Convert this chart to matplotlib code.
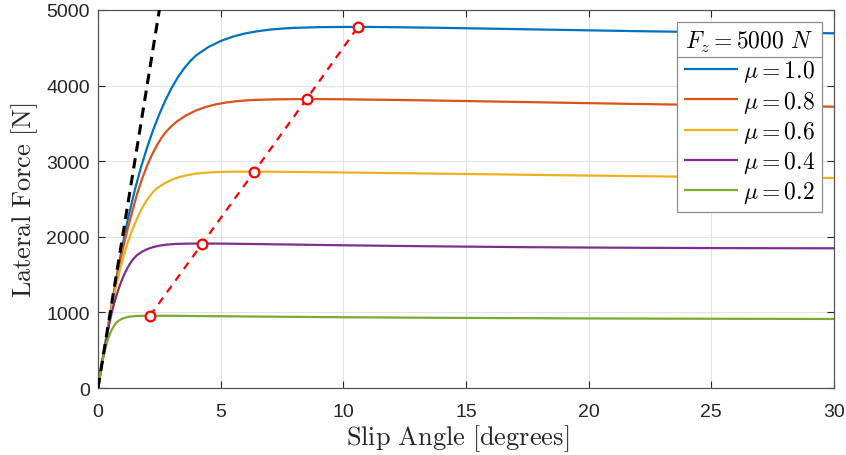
import matplotlib
matplotlib.use("Agg")
import matplotlib.pyplot as plt
from matplotlib.lines import Line2D

plt.rcParams['mathtext.fontset'] = 'cm'
plt.rcParams['font.family'] = ['Liberation Sans', 'DejaVu Sans']

# ---- data ----
mu_labels = [r'$\mu = 1.0$', r'$\mu = 0.8$', r'$\mu = 0.6$', r'$\mu = 0.4$', r'$\mu = 0.2$']
colors = ['#0072BD', '#D95319', '#EDB120', '#7E2F8E', '#77AC30']

x_mu10 = [0, 0.25, 0.5, 0.75, 1.0, 1.25, 1.5, 1.75, 2.0, 2.25, 2.5, 2.75, 3.0, 3.25, 3.5, 3.75, 4.0,
          4.5, 5.0, 5.5, 6.0, 6.5, 7.0, 7.5, 8.0, 9.0, 10.6, 12, 14, 16, 18, 20, 22, 24, 26, 28, 30]
y_mu10 = [0, 498, 987, 1456, 1890, 2278, 2618, 2917, 3181, 3415, 3623, 3807, 3968, 4107, 4224, 4321, 4400,
          4510, 4590, 4648, 4690, 4719, 4740, 4754, 4764, 4773, 4777, 4773, 4764, 4753, 4742, 4731, 4720,
          4711, 4704, 4698, 4692]

x_mu08 = [0, 0.2, 0.4, 0.6, 0.8, 1.0, 1.2, 1.4, 1.6, 1.8, 2.0, 2.2, 2.4, 2.6, 2.8, 3.0, 3.2, 3.6, 4.0,
          4.4, 4.8, 5.2, 5.6, 6.0, 6.4, 7.2, 8.5, 10, 12, 14, 16, 18, 20, 22, 24, 26, 28, 30]
y_mu08 = [0, 398, 790, 1165, 1512, 1822, 2094, 2340, 2575, 2770, 2940, 3085, 3210, 3315, 3400, 3465, 3522,
          3608, 3672, 3718, 3752, 3775, 3792, 3803, 3811, 3818, 3822, 3819, 3811, 3801, 3790, 3779, 3768,
          3757, 3747, 3738, 3729, 3721]

x_mu06 = [0, 0.15, 0.3, 0.45, 0.6, 0.75, 0.9, 1.05, 1.2, 1.35, 1.5, 1.65, 1.8, 1.95, 2.1, 2.25, 2.4,
          2.7, 3.0, 3.3, 3.6, 3.9, 4.2, 4.5, 4.8, 5.4, 6.37, 8, 10, 12, 15, 18, 21, 24, 27, 30]
y_mu06 = [0, 299, 592, 874, 1134, 1367, 1571, 1750, 1909, 2049, 2174, 2284, 2381, 2464, 2534, 2594, 2640,
          2706, 2754, 2789, 2812, 2831, 2843, 2850, 2856, 2861, 2862, 2858, 2851, 2843, 2831, 2818, 2806,
          2795, 2786, 2778]

x_mu04 = [0, 0.1, 0.2, 0.3, 0.4, 0.5, 0.6, 0.7, 0.8, 0.9, 1.0, 1.1, 1.2, 1.3, 1.4, 1.5, 1.6, 1.8, 2.0,
          2.2, 2.4, 2.6, 2.8, 3.0, 3.2, 3.6, 4.25, 5, 6, 8, 10, 12.5, 15, 17.5, 20, 22.5, 25, 27.5, 30]
y_mu04 = [0, 199, 395, 582, 756, 911, 1047, 1167, 1272, 1366, 1449, 1523, 1587, 1643, 1690, 1728, 1760,
          1804, 1836, 1859, 1876, 1888, 1896, 1902, 1906, 1909, 1911, 1910, 1906, 1897, 1888, 1878, 1870,
          1863, 1858, 1854, 1851, 1849, 1848]

x_mu02 = [0, 0.05, 0.1, 0.15, 0.2, 0.25, 0.3, 0.35, 0.4, 0.45, 0.5, 0.55, 0.6, 0.65, 0.7, 0.75, 0.8,
          0.9, 1.0, 1.1, 1.2, 1.3, 1.4, 1.5, 1.6, 1.8, 2.12, 2.5, 3, 4, 5, 7.5, 10, 12.5, 15, 20, 25, 30]
y_mu02 = [0, 100, 197, 291, 378, 456, 524, 583, 636, 683, 725, 762, 794, 821, 845, 864, 880,
          902, 918, 929, 938, 944, 948, 951, 953, 955, 956, 956, 955, 952, 949, 942, 936, 931, 927, 920,
          916, 913]

# linear (cornering stiffness) reference line
x_lin = [0, 2.5]
y_lin = [0, 5000]

# peak points
x_peak = [2.12, 4.25, 6.37, 8.5, 10.6]
y_peak = [956, 1911, 2862, 3822, 4777]

xticks = [0, 5, 10, 15, 20, 25, 30]
yticks = [0, 1000, 2000, 3000, 4000, 5000]

# ---- figure ----
fig = plt.figure(figsize=(8.46, 4.56), dpi=100)
ax = fig.add_axes([98/846, 1-389/456, (834-98)/846, (389-11)/456])

series = [(x_mu10, y_mu10), (x_mu08, y_mu08), (x_mu06, y_mu06), (x_mu04, y_mu04), (x_mu02, y_mu02)]
handles = []
for (xs, ys), c, lab in zip(series, colors, mu_labels):
    h, = ax.plot(xs, ys, color=c, lw=1.6, label=lab, zorder=3,
                 solid_joinstyle='round', solid_capstyle='butt')
    handles.append(h)

ax.plot(x_lin, y_lin, color='black', lw=2.2, ls=(0, (3.4, 2.2)), zorder=4)
ax.plot(x_peak, y_peak, color='#FF0000', lw=1.6, ls=(0, (3.5, 3.0)), zorder=5,
        marker='o', ms=7, mfc='white', mec='#FF0000', mew=1.6)

ax.set_xlim(0, 30)
ax.set_ylim(0, 5000)
ax.set_xticks(xticks)
ax.set_yticks(yticks)
ax.tick_params(direction='in', length=5, width=0.8, top=True, right=True,
               labelsize=14, colors='#262626')
ax.tick_params(axis='x', pad=11)
ax.tick_params(axis='y', pad=6)
for s in ax.spines.values():
    s.set_color('#555555')
    s.set_linewidth(0.9)
ax.grid(True, color='#e3e3e3', lw=0.8, zorder=0)
ax.set_axisbelow(True)

ax.set_xlabel(r'$\mathrm{Slip\ Angle\ [degrees]}$', fontsize=19, color='#262626', labelpad=1)
ax.set_ylabel(r'$\mathrm{Lateral\ Force\ [N]}$', fontsize=19, color='#262626', labelpad=4)
ax.xaxis.set_label_coords(0.489, -0.09)

leg = ax.legend(handles=handles, title=r'$F_z = 5000\ N$', loc='upper right',
                bbox_to_anchor=((822-98)/736, (389-23)/378), borderaxespad=0,
                fontsize=17, title_fontsize=17, fancybox=False, framealpha=1,
                edgecolor='#8c8c8c', handlelength=2.3, handletextpad=0.2,
                labelspacing=0.18, borderpad=0.3)
leg.get_frame().set_linewidth(0.9)
leg.set_zorder(10)

fig.canvas.draw()
r = fig.canvas.get_renderer()
fb = leg.get_frame().get_window_extent(r)
tb = leg.get_title().get_window_extent(r)
ysep = tb.y0 - 3
inv = fig.transFigure.inverted()
(x0f, yf) = inv.transform((fb.x0, ysep))
(x1f, _) = inv.transform((fb.x1, ysep))
fig.add_artist(Line2D([x0f, x1f], [yf, yf], transform=fig.transFigure,
                      color='#8c8c8c', lw=0.9, zorder=11))

fig.savefig('out.png', dpi=100)
